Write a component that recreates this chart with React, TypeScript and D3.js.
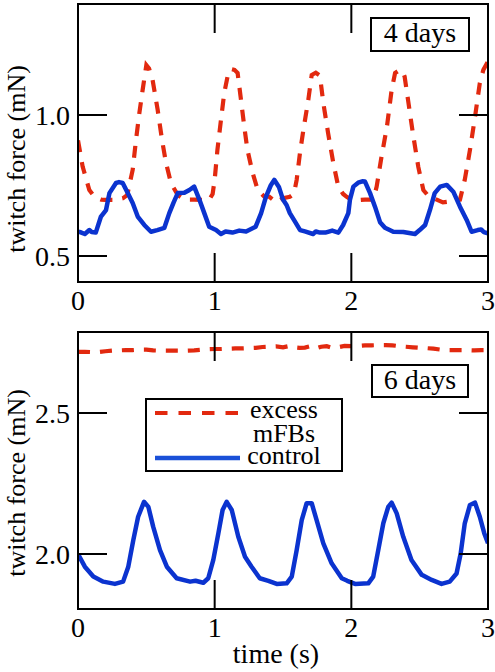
import React from "react";
import * as d3 from "d3";

type Pt = [number, number];

// time ticks (s)
const timeTicks = [0, 1, 2, 3];
const topForceTicks = [0.5, 1.0];
const bottomForceTicks = [2.0, 2.5];

// 4 days: excess mFBs (dashed red)
const excess4: Pt[] = [
  [0, 0.91], [0.034, 0.817], [0.083, 0.734], [0.12, 0.71], [0.17, 0.7], [0.2, 0.699], [0.28, 0.699],
  [0.33, 0.705], [0.36, 0.716], [0.4, 0.805], [0.424, 0.91], [0.449, 1.007], [0.473, 1.089], [0.5, 1.177],
  [0.52, 1.165], [0.546, 1.124], [0.583, 1.018], [0.615, 0.911], [0.644, 0.83], [0.68, 0.759], [0.73, 0.716],
  [0.78, 0.7], [0.85, 0.7], [0.91, 0.699], [0.96, 0.699], [0.985, 0.72], [1.0, 0.77], [1.02, 0.876],
  [1.046, 0.982], [1.07, 1.078], [1.1, 1.15], [1.12, 1.163], [1.145, 1.16], [1.168, 1.149], [1.19, 1.064],
  [1.217, 0.957], [1.24, 0.876], [1.278, 0.794], [1.315, 0.734], [1.36, 0.712], [1.4, 0.71], [1.45, 0.69],
  [1.5, 0.705], [1.55, 0.71], [1.58, 0.72], [1.6, 0.77], [1.624, 0.865], [1.649, 0.947], [1.685, 1.053],
  [1.71, 1.142], [1.74, 1.15], [1.77, 1.14], [1.795, 1.043], [1.83, 0.936], [1.868, 0.83], [1.905, 0.745],
  [1.94, 0.72], [1.966, 0.71], [2.0, 0.7], [2.05, 0.698], [2.1, 0.7], [2.16, 0.7], [2.185, 0.745],
  [2.22, 0.85], [2.26, 0.957], [2.295, 1.089], [2.32, 1.149], [2.356, 1.16], [2.375, 1.155], [2.39, 1.136],
  [2.415, 1.053], [2.45, 0.936], [2.49, 0.816], [2.527, 0.734], [2.56, 0.715], [2.6, 0.705], [2.67, 0.69],
  [2.74, 0.695], [2.795, 0.7], [2.83, 0.77], [2.868, 0.876], [2.905, 0.993], [2.94, 1.113], [2.966, 1.16],
  [3.0, 1.19],
];

// 4 days: control (solid blue)
const control4: Pt[] = [
  [0, 0.586], [0.02, 0.584], [0.05, 0.578], [0.083, 0.592], [0.1, 0.585], [0.13, 0.583], [0.168, 0.64],
  [0.205, 0.663], [0.23, 0.723], [0.278, 0.759], [0.3, 0.762], [0.327, 0.759], [0.364, 0.723], [0.4, 0.688],
  [0.437, 0.64], [0.485, 0.61], [0.534, 0.586], [0.58, 0.592], [0.632, 0.6], [0.668, 0.652], [0.7, 0.69],
  [0.73, 0.723], [0.778, 0.724], [0.815, 0.734], [0.85, 0.746], [0.888, 0.7], [0.924, 0.652], [0.96, 0.604],
  [1.01, 0.592], [1.046, 0.578], [1.08, 0.587], [1.13, 0.583], [1.18, 0.59], [1.23, 0.587], [1.3, 0.604],
  [1.34, 0.652], [1.375, 0.71], [1.41, 0.75], [1.436, 0.77], [1.47, 0.745], [1.5, 0.7], [1.527, 0.68],
  [1.55, 0.652], [1.59, 0.62], [1.625, 0.592], [1.66, 0.587], [1.72, 0.578], [1.74, 0.587], [1.77, 0.583],
  [1.81, 0.583], [1.86, 0.59], [1.905, 0.583], [1.94, 0.61], [1.978, 0.652], [1.99, 0.7], [2.015, 0.746],
  [2.05, 0.76], [2.08, 0.765], [2.1, 0.764], [2.137, 0.723], [2.173, 0.675], [2.21, 0.62], [2.246, 0.6],
  [2.307, 0.586], [2.38, 0.585], [2.466, 0.578], [2.5, 0.592], [2.54, 0.61], [2.575, 0.663], [2.61, 0.723],
  [2.65, 0.746], [2.698, 0.752], [2.746, 0.728], [2.795, 0.675], [2.844, 0.628], [2.88, 0.586], [2.925, 0.592],
  [2.95, 0.594], [2.97, 0.585], [3.0, 0.58],
];

// 6 days: excess mFBs (dashed red)
const excess6: Pt[] = [
  [0, 2.717], [0.05, 2.717], [0.1, 2.716], [0.15, 2.716], [0.2, 2.719], [0.25, 2.721], [0.3, 2.722],
  [0.35, 2.723], [0.4, 2.723], [0.45, 2.725], [0.5, 2.725], [0.55, 2.722], [0.6, 2.721], [0.65, 2.721],
  [0.7, 2.721], [0.75, 2.721], [0.8, 2.721], [0.85, 2.722], [0.9, 2.724], [0.95, 2.726], [1.0, 2.727],
  [1.05, 2.727], [1.1, 2.728], [1.15, 2.729], [1.2, 2.729], [1.25, 2.73], [1.3, 2.731], [1.35, 2.734],
  [1.4, 2.735], [1.45, 2.736], [1.5, 2.733], [1.55, 2.738], [1.58, 2.733], [1.62, 2.731], [1.66, 2.732],
  [1.7, 2.737], [1.74, 2.729], [1.78, 2.735], [1.82, 2.737], [1.86, 2.731], [1.9, 2.733], [1.95, 2.738],
  [2.0, 2.737], [2.05, 2.738], [2.1, 2.74], [2.15, 2.74], [2.2, 2.741], [2.25, 2.741], [2.3, 2.74],
  [2.35, 2.737], [2.4, 2.735], [2.45, 2.733], [2.5, 2.731], [2.55, 2.73], [2.6, 2.728], [2.65, 2.725],
  [2.7, 2.723], [2.75, 2.723], [2.8, 2.723], [2.85, 2.723], [2.9, 2.722], [2.95, 2.723], [3.0, 2.723],
];

// 6 days: control (solid blue)
const control6: Pt[] = [
  [0, 2.0], [0.05, 1.955], [0.112, 1.92], [0.185, 1.902], [0.27, 1.894], [0.33, 1.902], [0.368, 1.955],
  [0.405, 2.05], [0.44, 2.132], [0.483, 2.185], [0.515, 2.167], [0.55, 2.097], [0.6, 2.014], [0.65, 1.955],
  [0.722, 1.914], [0.82, 1.902], [0.86, 1.905], [0.917, 1.898], [0.953, 1.914], [0.99, 1.979], [1.027, 2.073],
  [1.058, 2.156], [1.088, 2.185], [1.125, 2.156], [1.173, 2.061], [1.222, 1.99], [1.27, 1.955], [1.33, 1.914],
  [1.393, 1.905], [1.454, 1.894], [1.527, 1.896], [1.564, 1.92], [1.6, 2.014], [1.637, 2.12], [1.673, 2.18],
  [1.71, 2.18], [1.746, 2.12], [1.795, 2.038], [1.856, 1.967], [1.93, 1.914], [1.97, 1.905], [2.027, 1.894],
  [2.124, 1.896], [2.16, 1.92], [2.197, 2.014], [2.234, 2.109], [2.27, 2.167], [2.295, 2.182], [2.332, 2.144],
  [2.38, 2.061], [2.44, 1.979], [2.515, 1.926], [2.588, 1.908], [2.66, 1.894], [2.72, 1.902], [2.77, 1.931],
  [2.8, 2.002], [2.83, 2.109], [2.868, 2.174], [2.905, 2.182], [2.94, 2.132], [2.973, 2.073], [3.0, 2.038],
];

const legendLabels = ["excess", "mFBs", "control"];
const yTitle = "twitch force (mN)";
const xTitle = "time (s)";

const RED = "#e2290f";
const BLUE = "#0b33cf";
const FONT = "'Liberation Serif', 'Times New Roman', serif";

type PanelProps = {
  id: string;
  top: number;
  bottom: number;
  yDomain: [number, number];
  yRange: [number, number];
  yTicks: number[];
  excess: Pt[];
  control: Pt[];
  tag: string;
  tagBox: { x: number; y: number; w: number; h: number };
  titleY: number;
  showLegend?: boolean;
};

const X0 = 78;
const X1 = 488;
const TICK = 29;

function Panel(p: PanelProps) {
  const x = d3.scaleLinear().domain([0, 3]).range([X0, X1]);
  const y = d3.scaleLinear().domain(p.yDomain).range(p.yRange);
  const line = d3
    .line<Pt>()
    .x((d) => x(d[0]))
    .y((d) => y(d[1]));
  const clipId = `clip-${p.id}`;
  return (
    <g>
      <defs>
        <clipPath id={clipId}>
          <rect x={X0} y={p.top} width={X1 - X0} height={p.bottom - p.top} />
        </clipPath>
      </defs>
      <g clipPath={`url(#${clipId})`}>
        <path d={line(p.excess) || ""} fill="none" stroke={RED} strokeWidth={4.2} strokeDasharray="12,10" />
        <path d={line(p.control) || ""} fill="none" stroke={BLUE} strokeWidth={4.5} strokeLinejoin="round" />
      </g>
      {timeTicks.map((t) => (
        <g key={`xt${t}`}>
          <line x1={x(t)} x2={x(t)} y1={p.top} y2={p.top + TICK} stroke="#000" strokeWidth={2} />
          <line x1={x(t)} x2={x(t)} y1={p.bottom} y2={p.bottom - TICK} stroke="#000" strokeWidth={2} />
          <text x={x(t)} y={p.bottom + 28} textAnchor="middle" fontSize={28} fontFamily={FONT}>
            {t}
          </text>
        </g>
      ))}
      {p.yTicks.map((v) => (
        <g key={`yt${v}`}>
          <line x1={X0} x2={X0 + TICK} y1={y(v)} y2={y(v)} stroke="#000" strokeWidth={2} />
          <line x1={X1} x2={X1 - TICK} y1={y(v)} y2={y(v)} stroke="#000" strokeWidth={2} />
          <text x={70} y={y(v) + 10} textAnchor="end" fontSize={28} fontFamily={FONT}>
            {v.toFixed(1)}
          </text>
        </g>
      ))}
      <rect x={X0} y={p.top} width={X1 - X0} height={p.bottom - p.top} fill="none" stroke="#000" strokeWidth={2} />
      <text
        transform={`translate(25,${p.titleY}) rotate(-90)`}
        textAnchor="middle"
        fontSize={26}
        fontFamily={FONT}
      >
        {yTitle}
      </text>
      <rect
        x={p.tagBox.x}
        y={p.tagBox.y}
        width={p.tagBox.w}
        height={p.tagBox.h}
        fill="#fff"
        stroke="#000"
        strokeWidth={2}
      />
      <text
        x={p.tagBox.x + p.tagBox.w / 2}
        y={p.tagBox.y + 24}
        textAnchor="middle"
        fontSize={28}
        fontFamily={FONT}
      >
        {p.tag}
      </text>
      {p.showLegend && (
        <g>
          <rect x={146} y={399} width={196} height={72} fill="#fff" stroke="#000" strokeWidth={2} />
          <line x1={155} x2={240} y1={413} y2={413} stroke={RED} strokeWidth={4.2} strokeDasharray="12.5,11" />
          <line x1={155} x2={240} y1={458} y2={458} stroke="#1a50d8" strokeWidth={4.5} />
          {legendLabels.map((l, i) => (
            <text
              key={l}
              x={284}
              y={[418, 442, 464][i]}
              textAnchor="middle"
              fontSize={26}
              fontFamily={FONT}
            >
              {l}
            </text>
          ))}
        </g>
      )}
    </g>
  );
}

export default function App() {
  return (
    <svg
      width={495}
      height={672}
      style={{ position: "absolute", left: 0, top: 0, background: "#fff" }}
    >
      <rect width={495} height={672} fill="#fff" />
      <Panel
        id="top"
        top={4}
        bottom={282}
        yDomain={[0.5, 1.0]}
        yRange={[256, 115]}
        yTicks={topForceTicks}
        excess={excess4}
        control={control4}
        tag="4 days"
        tagBox={{ x: 371, y: 18, w: 98, h: 33 }}
        titleY={159}
      />
      <Panel
        id="bottom"
        top={332}
        bottom={609}
        yDomain={[2.0, 2.5]}
        yRange={[554, 413]}
        yTicks={bottomForceTicks}
        excess={excess6}
        control={control6}
        tag="6 days"
        tagBox={{ x: 372, y: 365, w: 96, h: 32 }}
        titleY={483}
        showLegend
      />
      <text x={276} y={663} textAnchor="middle" fontSize={28} fontFamily={FONT}>
        {xTitle}
      </text>
    </svg>
  );
}
